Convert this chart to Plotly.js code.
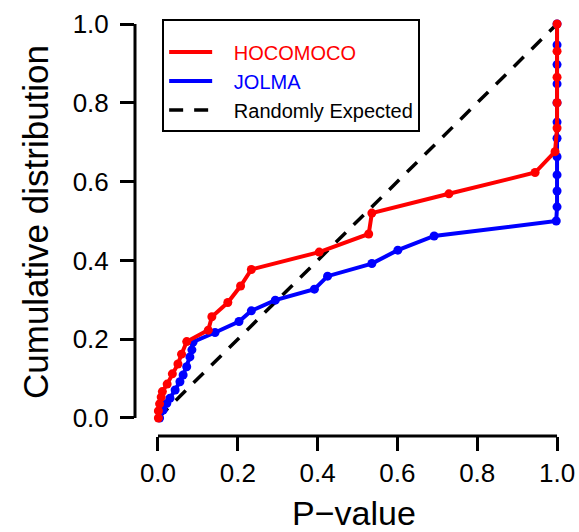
<!DOCTYPE html>
<html>
<head>
<meta charset="utf-8">
<script src="https://cdn.plot.ly/plotly-3.0.1.min.js"></script>
<style>html,body{margin:0;padding:0;background:#fff;}#chart{width:579px;height:532px;}</style>
</head>
<body>
<div id="chart"></div>
<script>
// HOCOMOCO cumulative distribution of P-values
const hocoP = [0.001, 0.001, 0.004, 0.008, 0.011, 0.023, 0.036, 0.050, 0.059, 0.072, 0.126, 0.135, 0.175, 0.207, 0.234, 0.404, 0.528, 0.536, 0.729, 0.945, 0.995, 1.0, 1.0, 1.0, 1.0, 1.0];
const hocoC = [0.000, 0.018, 0.036, 0.053, 0.067, 0.086, 0.112, 0.137, 0.162, 0.194, 0.223, 0.257, 0.293, 0.335, 0.377, 0.421, 0.467, 0.520, 0.569, 0.623, 0.676, 0.736, 0.800, 0.865, 0.931, 1.000];
// JOLMA cumulative distribution of P-values
const jolmaP = [0.004, 0.013, 0.022, 0.030, 0.043, 0.055, 0.063, 0.072, 0.080, 0.085, 0.088, 0.143, 0.203, 0.234, 0.294, 0.392, 0.425, 0.536, 0.601, 0.692, 0.998, 1.0, 1.0, 1.0, 1.0, 1.0, 1.0, 1.0, 1.0, 1.0, 1.0, 1.0];
const jolmaC = [0.000, 0.020, 0.037, 0.050, 0.071, 0.092, 0.109, 0.130, 0.155, 0.173, 0.193, 0.217, 0.245, 0.272, 0.299, 0.327, 0.360, 0.392, 0.426, 0.462, 0.500, 0.536, 0.576, 0.617, 0.663, 0.710, 0.751, 0.800, 0.848, 0.897, 0.947, 1.000];
// Randomly expected (diagonal)
const expectedP = [0, 1];
const expectedC = [0, 1];
const tickVals = [0, 0.2, 0.4, 0.6, 0.8, 1.0];
const tickText = ['0.0', '0.2', '0.4', '0.6', '0.8', '1.0'];
const seriesNames = ['HOCOMOCO', 'JOLMA', 'Randomly Expected'];
const seriesColors = ['#ff0000', '#0000ff', '#000000'];

const FONT = 'Liberation Sans, Arial, Helvetica, sans-serif';
const GAP = '\u00a0\u00a0\u00a0';

const traces = [
  {x: expectedP, y: expectedC, mode: 'lines', showlegend: false, hoverinfo: 'skip',
   line: {color: seriesColors[2], width: 3.5, dash: '14px,11px'}},
  {x: jolmaP, y: jolmaC, mode: 'lines+markers', showlegend: false,
   line: {color: seriesColors[1], width: 4}, marker: {color: seriesColors[1], size: 9}},
  {x: hocoP, y: hocoC, mode: 'lines+markers', showlegend: false,
   line: {color: seriesColors[0], width: 4}, marker: {color: seriesColors[0], size: 9}},
  // legend-only entries (lines without points, like the reference legend)
  {x: [null], y: [null], mode: 'lines', name: GAP + '<span style="color:' + seriesColors[0] + '">' + seriesNames[0] + '</span>',
   line: {color: seriesColors[0], width: 4}},
  {x: [null], y: [null], mode: 'lines', name: GAP + '<span style="color:' + seriesColors[1] + '">' + seriesNames[1] + '</span>',
   line: {color: seriesColors[1], width: 4}},
  {x: [null], y: [null], mode: 'lines', name: GAP + seriesNames[2],
   line: {color: seriesColors[2], width: 3.5, dash: '14px,11px'}}
];

const layout = {
  width: 579, height: 532,
  margin: {l: 135, r: 6, t: 8, b: 96, pad: 0},
  paper_bgcolor: '#ffffff', plot_bgcolor: '#ffffff',
  font: {family: FONT, color: '#000000'},
  showlegend: true,
  legend: {
    x: 0.062, y: 0.975, xanchor: 'left', yanchor: 'top',
    bgcolor: '#ffffff', bordercolor: '#000000', borderwidth: 2,
    font: {family: FONT, size: 20, color: '#000000'},
    title: {text: '\u00a0', font: {family: FONT, size: 9}},
    itemwidth: 43, tracegroupgap: 0, traceorder: 'normal'
  },
  xaxis: {
    range: [-0.0576, 1.040], showgrid: false, zeroline: false, showline: false,
    tickmode: 'array', tickvals: tickVals, ticktext: tickText,
    ticks: 'outside', ticklen: 14, tickwidth: 3, tickcolor: '#000000',
    tickfont: {family: FONT, size: 26, color: '#000000'},
    title: {text: 'P\u2212value', font: {family: FONT, size: 34, color: '#000000'}, standoff: 15},
    fixedrange: true
  },
  yaxis: {
    range: [-0.0457, 1.0406], showgrid: false, zeroline: false, showline: false,
    tickmode: 'array', tickvals: tickVals, ticktext: tickText,
    ticks: 'outside', ticklen: 14, tickwidth: 3, tickcolor: '#000000',
    ticklabelstandoff: 6,
    tickfont: {family: FONT, size: 26, color: '#000000'},
    title: {text: 'Cumulative distribution', font: {family: FONT, size: 35, color: '#000000'}, standoff: 13},
    fixedrange: true
  },
  shapes: [
    {type: 'line', xref: 'x', yref: 'paper', x0: 0, x1: 1, y0: 0, y1: 0, line: {color: '#000000', width: 3}},
    {type: 'line', xref: 'paper', yref: 'y', x0: 0, x1: 0, y0: 0, y1: 1, line: {color: '#000000', width: 3}}
  ]
};

Plotly.newPlot('chart', traces, layout, {displayModeBar: false, staticPlot: true});
</script>
</body>
</html>
